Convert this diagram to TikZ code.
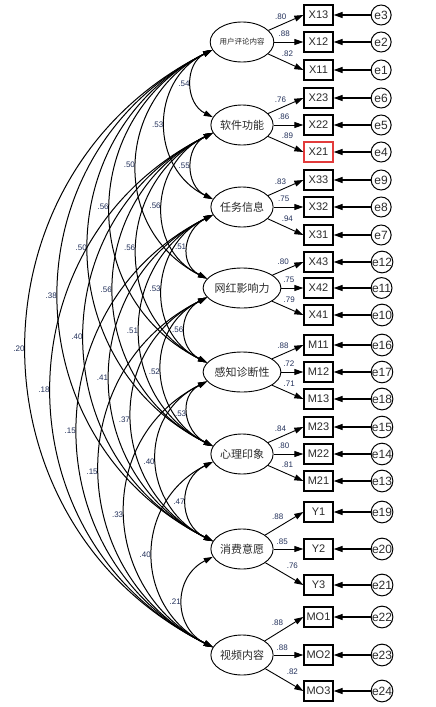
\documentclass[tikz,border=0pt]{standalone}
\usepackage{fontspec}
\setmainfont{Liberation Sans}
\newfontfamily\cjk{Noto Sans CJK SC}
\usepackage{xcolor}
\usepackage{tikz}
\usetikzlibrary{arrows.meta,positioning,shapes.geometric}
\definecolor{AmosNavy}{HTML}{22305A}
\definecolor{AmosText}{HTML}{2A2A2A}
\definecolor{AmosRed}{HTML}{E23B3B}

\begin{document}
\begin{tikzpicture}[
    x=1pt, y=-1pt,
    lat/.style={ellipse, draw, line width=0.9pt, minimum width=59pt, minimum height=40pt, inner sep=0pt,
      font=\cjk\fontsize{11}{11}\selectfont, text=AmosText},
    obs/.style={rectangle, draw, line width=1.3pt, minimum width=29pt, minimum height=20pt, inner sep=0pt,
      font=\fontsize{11}{11}\selectfont, text=AmosText},
    err/.style={circle, draw, line width=1pt, minimum size=20pt, inner sep=0pt,
      font=\fontsize{12}{12}\selectfont, text=AmosText},
    ld/.style={-{Triangle[length=9pt,width=6pt]}, line width=0.9pt},
    er/.style={-{Triangle[length=9pt,width=6pt]}, line width=1.3pt},
    cov/.style={{Triangle[length=9pt,width=5.5pt]}-{Triangle[length=9pt,width=5.5pt]}, line width=1pt},
    lbl/.style={font=\fontsize{8}{8}\selectfont, text=AmosNavy, inner sep=0pt},
    cl/.style={lbl, midway, left=1.5pt},
    la/.style={lbl, pos=.35, above=5pt},
    lb/.style={lbl, pos=.34, above=5pt},
    lc/.style={lbl, pos=.55, above=6pt},
    wa/.style={lbl, pos=.33, above=7pt},
    wb/.style={lbl, pos=.29, above=4pt},
    wc/.style={lbl, pos=.71, above=10pt},
  ]
    \useasboundingbox (0,0) rectangle (436,707);

    % ---- 用户评论内容 ----
    \node[lat, font=\cjk\fontsize{7.5}{7.5}\selectfont] (L1) at (242,42) {用户评论内容};
    \node[obs] (x13) at (318.5,15) {X13};
    \node[obs] (x12) at (318.5,42) {X12};
    \node[obs] (x11) at (318.5,70) {X11};
    \node[err, right=37pt of x13] (e3) {e3};
    \node[err, right=37pt of x12] (e2) {e2};
    \node[err, right=37pt of x11] (e1) {e1};
    \draw[ld] (L1) -- node[la] {.80} (x13.west);
    \draw[ld] (L1) -- node[lb] {.88} (x12.west);
    \draw[ld] (L1) -- node[lc] {.82} (x11.west);
    \draw[er] (e3) -- (x13);
    \draw[er] (e2) -- (x12);
    \draw[er] (e1) -- (x11);

    % ---- 软件功能 ----
    \node[lat] (L2) at (242,125) {软件功能};
    \node[obs] (x23) at (318.5,98) {X23};
    \node[obs] (x22) at (318.5,125) {X22};
    \node[obs, draw=AmosRed] (x21) at (318.5,152) {X21};
    \node[err, right=37pt of x23] (e6) {e6};
    \node[err, right=37pt of x22] (e5) {e5};
    \node[err, right=37pt of x21] (e4) {e4};
    \draw[ld] (L2) -- node[la] {.76} (x23.west);
    \draw[ld] (L2) -- node[lb] {.86} (x22.west);
    \draw[ld] (L2) -- node[lc] {.89} (x21.west);
    \draw[er] (e6) -- (x23);
    \draw[er] (e5) -- (x22);
    \draw[er] (e4) -- (x21);

    % ---- 任务信息 ----
    \node[lat] (L3) at (242,207) {任务信息};
    \node[obs] (x33) at (318.5,180) {X33};
    \node[obs] (x32) at (318.5,207) {X32};
    \node[obs] (x31) at (318.5,235) {X31};
    \node[err, right=37pt of x33] (e9) {e9};
    \node[err, right=37pt of x32] (e8) {e8};
    \node[err, right=37pt of x31] (e7) {e7};
    \draw[ld] (L3) -- node[la] {.83} (x33.west);
    \draw[ld] (L3) -- node[lb] {.75} (x32.west);
    \draw[ld] (L3) -- node[lc] {.94} (x31.west);
    \draw[er] (e9) -- (x33);
    \draw[er] (e8) -- (x32);
    \draw[er] (e7) -- (x31);

    % ---- 网红影响力 ----
    \node[lat] (L4) at (242,288) {网红影响力};
    \node[obs] (x43) at (318.5,262) {X43};
    \node[obs] (x42) at (318.5,288) {X42};
    \node[obs] (x41) at (318.5,315) {X41};
    \node[err, right=37pt of x43] (e12) {e12};
    \node[err, right=37pt of x42] (e11) {e11};
    \node[err, right=37pt of x41] (e10) {e10};
    \draw[ld] (L4) -- node[la] {.80} (x43.west);
    \draw[ld] (L4) -- node[lb] {.75} (x42.west);
    \draw[ld] (L4) -- node[lc] {.79} (x41.west);
    \draw[er] (e12) -- (x43);
    \draw[er] (e11) -- (x42);
    \draw[er] (e10) -- (x41);

    % ---- 感知诊断性 ----
    \node[lat] (L5) at (242,372) {感知诊断性};
    \node[obs] (m11) at (318.5,345) {M11};
    \node[obs] (m12) at (318.5,372) {M12};
    \node[obs] (m13) at (318.5,399) {M13};
    \node[err, right=37pt of m11] (e16) {e16};
    \node[err, right=37pt of m12] (e17) {e17};
    \node[err, right=37pt of m13] (e18) {e18};
    \draw[ld] (L5) -- node[la] {.88} (m11.west);
    \draw[ld] (L5) -- node[lb] {.72} (m12.west);
    \draw[ld] (L5) -- node[lc] {.71} (m13.west);
    \draw[er] (e16) -- (m11);
    \draw[er] (e17) -- (m12);
    \draw[er] (e18) -- (m13);

    % ---- 心理印象 ----
    \node[lat] (L6) at (242,454) {心理印象};
    \node[obs] (m23) at (318.5,427) {M23};
    \node[obs] (m22) at (318.5,454) {M22};
    \node[obs] (m21) at (318.5,481) {M21};
    \node[err, right=37pt of m23] (e15) {e15};
    \node[err, right=37pt of m22] (e14) {e14};
    \node[err, right=37pt of m21] (e13) {e13};
    \draw[ld] (L6) -- node[la] {.84} (m23.west);
    \draw[ld] (L6) -- node[lb] {.80} (m22.west);
    \draw[ld] (L6) -- node[lc] {.81} (m21.west);
    \draw[er] (e15) -- (m23);
    \draw[er] (e14) -- (m22);
    \draw[er] (e13) -- (m21);

    % ---- 消费意愿 ----
    \node[lat] (L7) at (242,549) {消费意愿};
    \node[obs] (y1) at (318.5,512) {Y1};
    \node[obs] (y2) at (318.5,549) {Y2};
    \node[obs] (y3) at (318.5,585) {Y3};
    \node[err, right=37pt of y1] (e19) {e19};
    \node[err, right=37pt of y2] (e20) {e20};
    \node[err, right=37pt of y3] (e21) {e21};
    \draw[ld] (L7) -- node[wa] {.88} (y1.west);
    \draw[ld] (L7) -- node[wb] {.85} (y2.west);
    \draw[ld] (L7) -- node[wc] {.76} (y3.west);
    \draw[er] (e19) -- (y1);
    \draw[er] (e20) -- (y2);
    \draw[er] (e21) -- (y3);

    % ---- 视频内容 ----
    \node[lat] (L8) at (242,655) {视频内容};
    \node[obs] (mo1) at (318.5,617) {MO1};
    \node[obs] (mo2) at (318.5,655) {MO2};
    \node[obs] (mo3) at (318.5,691) {MO3};
    \node[err, right=37pt of mo1] (e22) {e22};
    \node[err, right=37pt of mo2] (e23) {e23};
    \node[err, right=37pt of mo3] (e24) {e24};
    \draw[ld] (L8) -- node[wa] {.88} (mo1.west);
    \draw[ld] (L8) -- node[wb] {.88} (mo2.west);
    \draw[ld] (L8) -- node[wc] {.82} (mo3.west);
    \draw[er] (e22) -- (mo1);
    \draw[er] (e23) -- (mo2);
    \draw[er] (e24) -- (mo3);

    % ---- 相关系数 ----
    \draw[cov] (L1.195) .. controls +(-28,14) and +(-28,-14) .. node[cl] {.54} (L2.165);
    \draw[cov] (L1.195) .. controls +(-63,31) and +(-63,-31) .. node[cl] {.53} (L3.165);
    \draw[cov] (L1.195) .. controls +(-97,49) and +(-97,-49) .. node[cl] {.50} (L4.165);
    \draw[cov] (L1.195) .. controls +(-132,66) and +(-132,-66) .. node[cl] {.56} (L5.165);
    \draw[cov] (L1.195) .. controls +(-165,83) and +(-165,-83) .. node[cl] {.50} (L6.165);
    \draw[cov] (L1.195) .. controls +(-205,103) and +(-205,-103) .. node[cl] {.38} (L7.165);
    \draw[cov] (L1.195) .. controls +(-248,124) and +(-248,-124) .. node[cl] {.20} (L8.165);
    \draw[cov] (L2.195) .. controls +(-28,14) and +(-28,-14) .. node[cl] {.55} (L3.165);
    \draw[cov] (L2.195) .. controls +(-63,31) and +(-63,-31) .. node[cl] {.56} (L4.165);
    \draw[cov] (L2.195) .. controls +(-97,49) and +(-97,-49) .. node[cl] {.56} (L5.165);
    \draw[cov] (L2.195) .. controls +(-132,66) and +(-132,-66) .. node[cl] {.56} (L6.165);
    \draw[cov] (L2.195) .. controls +(-171,85) and +(-171,-85) .. node[cl] {.40} (L7.165);
    \draw[cov] (L2.195) .. controls +(-215,107) and +(-215,-107) .. node[cl] {.18} (L8.165);
    \draw[cov] (L3.195) .. controls +(-29,15) and +(-29,-15) .. node[cl] {.51} (L4.165);
    \draw[cov] (L3.195) .. controls +(-63,31) and +(-63,-31) .. node[cl] {.53} (L5.165);
    \draw[cov] (L3.195) .. controls +(-97,49) and +(-97,-49) .. node[cl] {.51} (L6.165);
    \draw[cov] (L3.195) .. controls +(-137,69) and +(-137,-69) .. node[cl] {.41} (L7.165);
    \draw[cov] (L3.195) .. controls +(-180,90) and +(-180,-90) .. node[cl] {.15} (L8.165);
    \draw[cov] (L4.195) .. controls +(-29,15) and +(-29,-15) .. node[cl] {.56} (L5.165);
    \draw[cov] (L4.195) .. controls +(-64,32) and +(-64,-32) .. node[cl] {.52} (L6.165);
    \draw[cov] (L4.195) .. controls +(-104,52) and +(-104,-52) .. node[cl] {.37} (L7.165);
    \draw[cov] (L4.195) .. controls +(-147,73) and +(-147,-73) .. node[cl] {.15} (L8.165);
    \draw[cov] (L5.195) .. controls +(-29,15) and +(-29,-15) .. node[cl] {.53} (L6.165);
    \draw[cov] (L5.195) .. controls +(-71,35) and +(-71,-35) .. node[cl] {.40} (L7.165);
    \draw[cov] (L5.195) .. controls +(-113,57) and +(-113,-57) .. node[cl] {.33} (L8.165);
    \draw[cov] (L6.195) .. controls +(-35,17) and +(-35,-17) .. node[cl] {.47} (L7.165);
    \draw[cov] (L6.195) .. controls +(-80,40) and +(-80,-40) .. node[cl] {.40} (L8.165);
    \draw[cov] (L7.195) .. controls +(-40,20) and +(-40,-20) .. node[cl] {.21} (L8.165);
  \end{tikzpicture}
\end{document}
